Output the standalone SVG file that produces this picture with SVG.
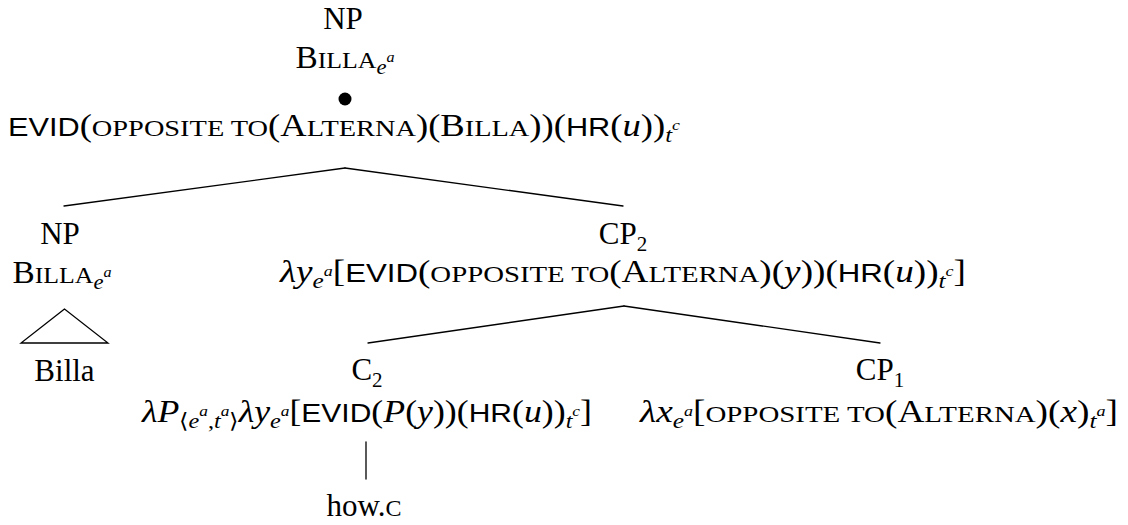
<svg xmlns="http://www.w3.org/2000/svg" width="1128" height="525" viewBox="0 0 1128 525">
<style>
text{font-family:"Liberation Serif",serif;font-size:31px;fill:#000}
.sc{font-size:24px}
.sf{font-family:"Liberation Sans",sans-serif;font-size:26px}
.i{font-style:italic}
.sb{font-size:21px}
.sp{font-size:15px}
.edge{stroke:#000;stroke-width:1.3;fill:none;stroke-linecap:round}
</style>
<rect width="1128" height="525" fill="#fff"/>
<g id="connectors">
<line class="edge" x1="345" y1="168" x2="64" y2="206"/>
<line class="edge" x1="345" y1="168" x2="623" y2="206"/>
<line class="edge" x1="624" y1="306" x2="368" y2="343"/>
<line class="edge" x1="624" y1="306" x2="880" y2="343"/>
<line class="edge" x1="366" y1="442" x2="366" y2="479"/>
</g>
<g id="root">
<text x="343" y="29" text-anchor="middle">NP</text>
<text x="345" y="68" text-anchor="middle" textLength="99" lengthAdjust="spacingAndGlyphs">B<tspan class="sc">ILLA</tspan><tspan class="sb i" dy="6">e</tspan><tspan class="sp i" dy="-12">a</tspan></text>
<circle cx="345" cy="99" r="6.5" fill="#000"/>
<text x="344" y="136" text-anchor="middle" textLength="672" lengthAdjust="spacingAndGlyphs"><tspan class="sf">EVID</tspan>(<tspan class="sc">OPPOSITE TO</tspan>(A<tspan class="sc">LTERNA</tspan>)(B<tspan class="sc">ILLA</tspan>))(<tspan class="sf">HR</tspan>(<tspan class="i">u</tspan>))<tspan class="sb i" dy="6">t</tspan><tspan class="sp i" dy="-12">c</tspan></text>
</g>
<g id="np">
<text x="60" y="244" text-anchor="middle">NP</text>
<text x="62" y="283" text-anchor="middle" textLength="99" lengthAdjust="spacingAndGlyphs">B<tspan class="sc">ILLA</tspan><tspan class="sb i" dy="6">e</tspan><tspan class="sp i" dy="-12">a</tspan></text>
<polygon class="edge" points="64.5,309 21,343 108,343"/>
<text x="64.5" y="381" text-anchor="middle">Billa</text>
</g>
<g id="cp2">
<text x="623" y="244" text-anchor="middle">CP<tspan class="sb" dy="7">2</tspan></text>
<text x="623" y="282" text-anchor="middle" textLength="686" lengthAdjust="spacingAndGlyphs"><tspan class="i">λy</tspan><tspan class="sb i" dy="6">e</tspan><tspan class="sp i" dy="-12">a</tspan><tspan dy="6">[</tspan><tspan class="sf">EVID</tspan>(<tspan class="sc">OPPOSITE TO</tspan>(A<tspan class="sc">LTERNA</tspan>)(<tspan class="i">y</tspan>))(<tspan class="sf">HR</tspan>(<tspan class="i">u</tspan>))<tspan class="sb i" dy="6">t</tspan><tspan class="sp i" dy="-12">c</tspan><tspan dy="6">]</tspan></text>
</g>
<g id="c2">
<text x="367" y="380" text-anchor="middle">C<tspan class="sb" dy="7">2</tspan></text>
<text x="367" y="422" text-anchor="middle" textLength="450" lengthAdjust="spacingAndGlyphs"><tspan class="i">λP</tspan><tspan class="sb" dy="6">⟨</tspan><tspan class="sb i">e</tspan><tspan class="sp i" dy="-12">a</tspan><tspan class="sb" dy="12">,</tspan><tspan class="sb i">t</tspan><tspan class="sp i" dy="-12">a</tspan><tspan class="sb" dy="12">⟩</tspan><tspan class="i" dy="-6">λy</tspan><tspan class="sb i" dy="6">e</tspan><tspan class="sp i" dy="-12">a</tspan><tspan dy="6">[</tspan><tspan class="sf">EVID</tspan>(<tspan class="i">P</tspan>(<tspan class="i">y</tspan>))(<tspan class="sf">HR</tspan>(<tspan class="i">u</tspan>))<tspan class="sb i" dy="6">t</tspan><tspan class="sp i" dy="-12">c</tspan><tspan dy="6">]</tspan></text>
</g>
<g id="cp1">
<text x="880" y="380" text-anchor="middle">CP<tspan class="sb" dy="7">1</tspan></text>
<text x="879" y="422" text-anchor="middle" textLength="478" lengthAdjust="spacingAndGlyphs"><tspan class="i">λx</tspan><tspan class="sb i" dy="6">e</tspan><tspan class="sp i" dy="-12">a</tspan><tspan dy="6">[</tspan><tspan class="sc">OPPOSITE TO</tspan>(A<tspan class="sc">LTERNA</tspan>)(<tspan class="i">x</tspan>)<tspan class="sb i" dy="6">t</tspan><tspan class="sp i" dy="-12">a</tspan><tspan dy="6">]</tspan></text>
</g>
<g id="how">
<text x="364" y="516" text-anchor="middle">how.<tspan class="sc">C</tspan></text>
</g>
</svg>
